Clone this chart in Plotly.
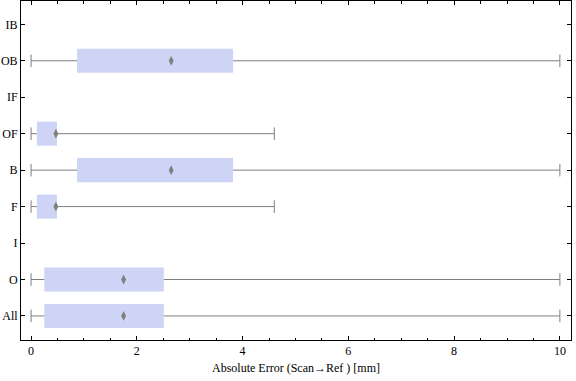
import plotly.graph_objects as go

categories = ["All", "O", "I", "F", "B", "OF", "IF", "OB", "IB"]
mins = [0.0, 0.0, None, 0.0, 0.0, 0.0, None, 0.0, None]
q1s = [0.25, 0.25, None, 0.11, 0.87, 0.11, None, 0.87, None]
q3s = [2.51, 2.51, None, 0.49, 3.82, 0.49, None, 3.82, None]
maxs = [10.0, 10.0, None, 4.6, 10.0, 4.6, None, 10.0, None]
means = [1.75, 1.75, None, 0.47, 2.65, 0.47, None, 2.65, None]

BOX_COLOR = "#cdd4f5"
GRAY = "#7f7f7f"
FONT = "Liberation Serif"

fig = go.Figure()

# boxes (q1 -> q3)
bx, bb, by = [], [], []
for c, a, b in zip(categories, q1s, q3s):
    if a is None:
        continue
    by.append(c)
    bb.append(a)
    bx.append(b - a)
fig.add_trace(go.Bar(orientation="h", y=by, x=bx, base=bb, width=0.66,
                     marker=dict(color=BOX_COLOR, line=dict(width=0)),
                     hoverinfo="skip", showlegend=False))

# whiskers
wx, wy = [], []
for c, lo, a, b, hi in zip(categories, mins, q1s, q3s, maxs):
    if lo is None:
        continue
    wx += [lo, a, None, b, hi, None]
    wy += [c, c, None, c, c, None]
fig.add_trace(go.Scatter(x=wx, y=wy, mode="lines",
                         line=dict(color=GRAY, width=1),
                         hoverinfo="skip", showlegend=False))

# caps
cx, cy = [], []
for c, lo, hi in zip(categories, mins, maxs):
    if lo is None:
        continue
    cx += [lo, hi]
    cy += [c, c]
fig.add_trace(go.Scatter(x=cx, y=cy, mode="markers",
                         marker=dict(symbol="line-ns", size=9,
                                     line=dict(color=GRAY, width=1)),
                         hoverinfo="skip", showlegend=False))

# means
mx, my = [], []
for c, m in zip(categories, means):
    if m is None:
        continue
    mx.append(m)
    my.append(c)
fig.add_trace(go.Scatter(x=mx, y=my, mode="markers",
                         marker=dict(symbol="diamond-tall", size=7, color=GRAY,
                                     line=dict(width=0)),
                         hoverinfo="skip", showlegend=False))

fig.update_layout(
    width=576, height=381,
    margin=dict(l=21, r=5, t=1, b=41, autoexpand=False),
    plot_bgcolor="white", paper_bgcolor="white",
    font=dict(family=FONT, size=12, color="black"),
    xaxis=dict(
        range=[-0.19, 10.21],
        tickvals=[0, 2, 4, 6, 8, 10],
        ticks="inside", ticklen=4, tickwidth=1, tickcolor="black",
        minor=dict(dtick=0.5, tick0=0, ticks="inside", ticklen=2.5,
                   tickcolor="black", showgrid=False),
        showline=True, linecolor="black", linewidth=1, mirror="ticks",
        showgrid=False, zeroline=False,
        title=dict(text="Absolute Error (Scan→Ref ) [mm]",
                   font=dict(family=FONT, size=12), standoff=6),
        tickfont=dict(family=FONT, size=12),
    ),
    yaxis=dict(
        type="category",
        categoryorder="array", categoryarray=categories,
        range=[-0.66, 8.64],
        ticks="inside", ticklen=4, tickwidth=1, tickcolor="black",
        showline=True, linecolor="black", linewidth=1, mirror="ticks",
        showgrid=False, zeroline=False,
        tickfont=dict(family=FONT, size=12),
    ),
)

fig.write_html("out.html",
               config={"displayModeBar": False},
               post_script="document.body.style.margin='0';document.body.style.overflow='hidden';")
